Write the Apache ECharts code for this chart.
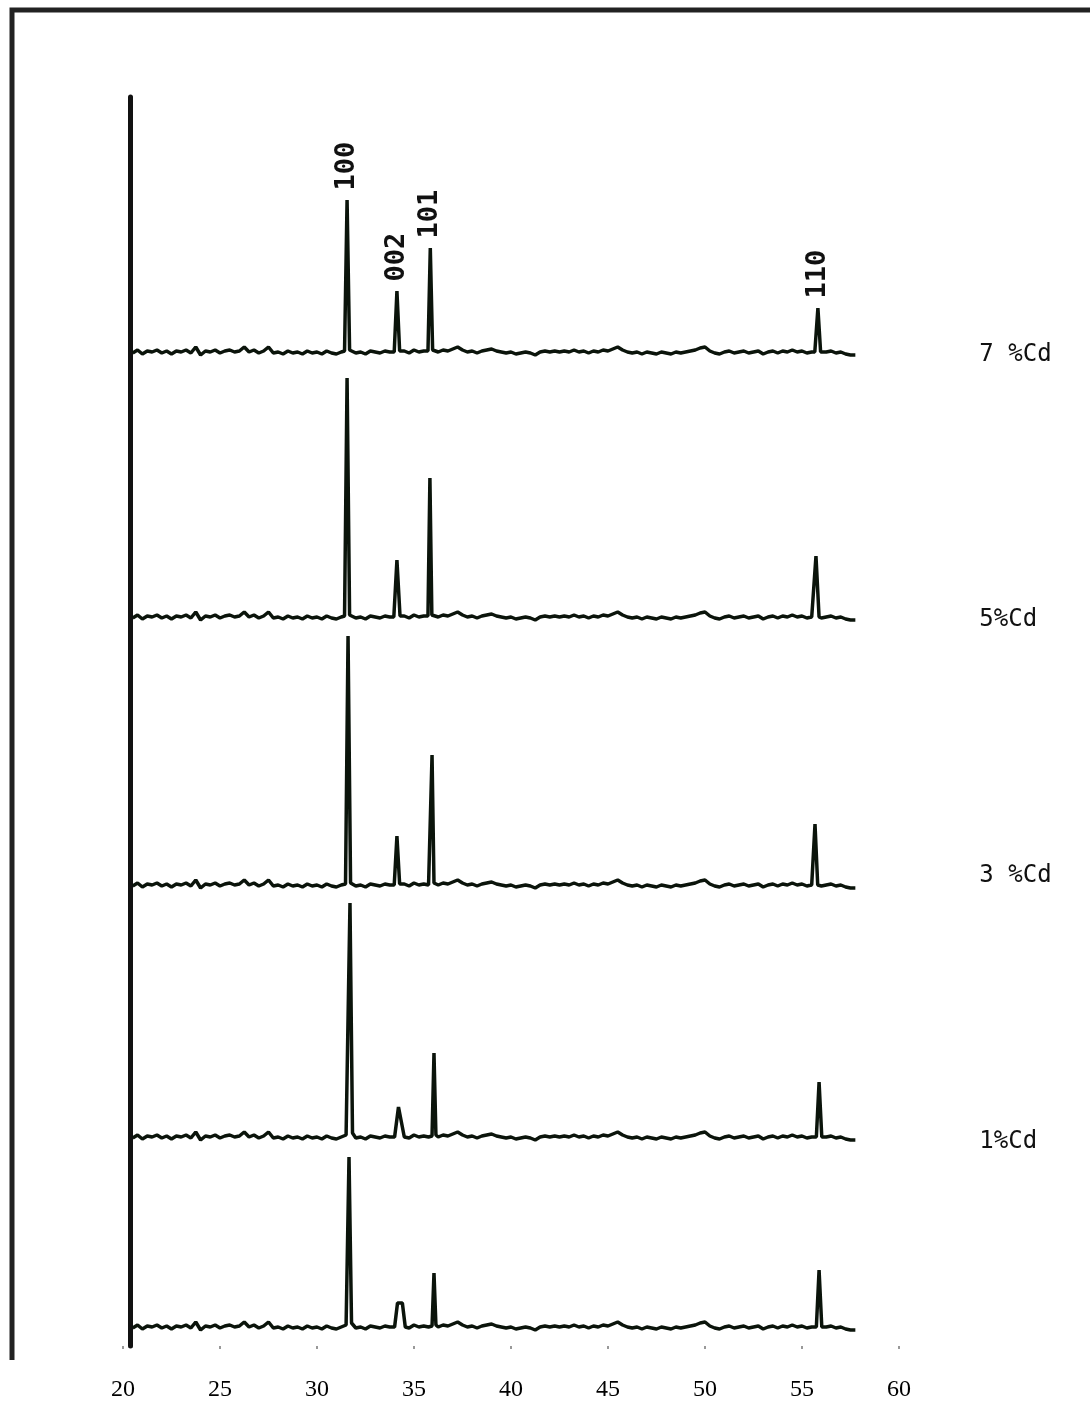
<!DOCTYPE html>
<html>
<head>
<meta charset="utf-8">
<title>XRD Cd</title>
<script src="https://cdn.jsdelivr.net/npm/echarts/dist/echarts.min.js"></script>
<style>
    html, body { margin: 0; padding: 0; background: #fff; }
    #xrd { width: 1090px; height: 1403px; }
</style>
</head>
<body>
<div id="xrd"></div>
<script>
// 2theta tick labels
var xTicks = [20, 25, 30, 35, 40, 45, 50, 55, 60];

// background wiggle shared by all traces, one value every 0.25 deg from 20.5
var bgStart = 20.5;
var bgStep = 0.25;
var bgNoise = [-1, 2, -2, 1, 0, 2, -1, 1, -2, 1, 0, 2, -1, 5, -3, 1, 0, 2, -1, 1,
    2, 0, 1, 5, 0, 2, -1, 1, 5, -1, 0, -2, 1, -1, 0, -2, 1, -1, 0, -2,
    1, -1, -2, 0, 2, 1, -1, 0, -2, 1, 0, -1, 1, 0, 1, 0, 1, -1, 2, 0,
    1, 0, 1, 0, 2, 1, 3, 5, 2, 0, 1, -1, 1, 2, 3, 1, 0, -1, 0, -2,
    -1, 0, -1, -3, 0, 1, 0, 1, 0, 1, 0, 2, 0, 1, -1, 1, 0, 2, 1, 3,
    5, 2, 0, -1, 0, -2, 0, -1, -2, 0, -1, -2, 0, -1, 0, 1, 2, 4, 5, 1,
    -1, -2, 0, 1, -1, 0, 1, -1, 0, 1, -2, 0, 1, -1, 1, 0, 2, 0, 1, -1,
    0, 1, -1, 0, 1, -1, 0, -2, -3, -3];

// trace names, bottom one has no label
var sampleNames = ['7 %Cd', '5%Cd', '3 %Cd', '1%Cd', 'ZnO'];
// vertical shift of each trace
var offsets = [994, 729, 461, 209, 19];

// peaks [2theta, intensity], groups: 100, 002, 101, 110
var peaks7 = [
    [[31.42, 1], [31.55, 152], [31.68, 2]],
    [[33.98, 0], [34.12, 61], [34.26, 1]],
    [[35.72, 1], [35.84, 104], [35.96, 2]],
    [[55.66, 0], [55.82, 44], [55.96, 0]]
];
var peaks5 = [
    [[31.42, 1], [31.55, 239], [31.68, 2]],
    [[33.96, 0], [34.12, 57], [34.28, 1]],
    [[35.72, 1], [35.82, 139], [35.92, 2]],
    [[55.54, 0], [55.72, 61], [55.88, 0]]
];
var peaks3 = [
    [[31.47, 1], [31.6, 249], [31.73, 2]],
    [[33.98, 0], [34.12, 49], [34.26, 1]],
    [[35.83, 1], [35.93, 130], [36.03, 2]],
    [[55.53, 0], [55.67, 61], [55.81, 0]]
];
var peaks1 = [
    [[31.57, 1], [31.7, 234], [31.83, 4]],
    [[34.0, 0], [34.2, 30], [34.3, 32], [34.5, 0]],
    [[35.93, 1], [36.03, 84], [36.13, 2]],
    [[55.74, 0], [55.88, 55], [56.02, 0]]
];
var peaks0 = [
    [[31.52, 1], [31.65, 170], [31.78, 4]],
    [[34.0, 0], [34.15, 24], [34.4, 24], [34.55, 0]],
    [[35.93, 1], [36.03, 54], [36.13, 2]],
    [[55.74, 0], [55.88, 57], [56.02, 0]]
];
var peakNames = ['100', '002', '101', '110'];

$ = function(id) { return document.getElementById(id); };

//merge background and peaks of one trace
function buildTrace(peaks, offset) {
    var pts = [];
    for (var i = 0; i < bgNoise.length; i++) {
        var t = bgStart + i * bgStep;
        var inPeak = peaks.some(function(g) {
            return t >= g[0][0] && t <= g[g.length - 1][0];
        });
        if (!inPeak) pts.push([t, offset + bgNoise[i]]);
    }
    peaks.forEach(function(g) {
        g.forEach(function(p) { pts.push([p[0], offset + p[1]]); });
    });
    pts.sort(function(a, b) { return a[0] - b[0]; });
    return pts;
}

function xrdChart() {
    var myChart = echarts.init($('xrd'));
    var allPeaks = [peaks7, peaks5, peaks3, peaks1, peaks0];
    var labelShift = [0, 0, -12, 2, 0];

    // hkl labels over the top trace
    var hkl = peakNames.map(function(n, k) {
        var top = peaks7[k].reduce(function(a, p) { return p[1] > a[1] ? p : a; });
        return { name: n, coord: [top[0], offsets[0] + top[1]] };
    });

    var series = sampleNames.map(function(name, i) {
        var s = {
            name: name,
            type: 'line',
            data: buildTrace(allPeaks[i], offsets[i]),
            showSymbol: false,
            symbol: 'none',
            lineStyle: { color: '#0b140b', width: 3.5 },
            endLabel: {
                show: i < 4,
                formatter: '{a}',
                offset: [116, labelShift[i]],
                fontFamily: 'DejaVu Sans Mono',
                fontSize: 24,
                color: '#111'
            }
        };
        if (i === 0) {
            s.markPoint = {
                symbol: 'rect',
                symbolSize: 1,
                itemStyle: { color: 'rgba(0,0,0,0)' },
                label: {
                    show: true,
                    formatter: '{b}',
                    position: 'top',
                    distance: 9,
                    rotate: 90,
                    align: 'left',
                    verticalAlign: 'middle',
                    fontFamily: 'DejaVu Sans Mono',
                    fontWeight: 'bold',
                    fontSize: 27,
                    color: '#111'
                },
                data: hkl
            };
        }
        return s;
    });

    var option = {
        animation: false,
        backgroundColor: '#fff',
        grid: { left: 123, right: 191, top: 97, bottom: 57, containLabel: false },
        xAxis: {
            type: 'value',
            min: xTicks[0],
            max: xTicks[xTicks.length - 1],
            interval: 5,
            axisLine: { show: false },
            axisTick: { show: true, length: 3, lineStyle: { color: '#999', width: 2 } },
            splitLine: { show: false },
            axisLabel: {
                margin: 32,
                fontFamily: 'Liberation Serif',
                fontSize: 24,
                color: '#000',
                showMinLabel: true,
                showMaxLabel: true
            }
        },
        yAxis: {
            type: 'value',
            min: 0,
            max: 1249,
            offset: -7,
            axisLine: { show: true, onZero: false, lineStyle: { color: '#111', width: 5 } },
            axisTick: { show: false },
            axisLabel: { show: false },
            splitLine: { show: false }
        },
        // frame of the original scan
        graphic: [{
            type: 'polyline',
            shape: { points: [[12, 1360], [12, 10], [1090, 10]] },
            style: { stroke: '#222', lineWidth: 5, fill: null }
        }],
        series: series
    };

    myChart.setOption(option);
}

xrdChart();
</script>
</body>
</html>
